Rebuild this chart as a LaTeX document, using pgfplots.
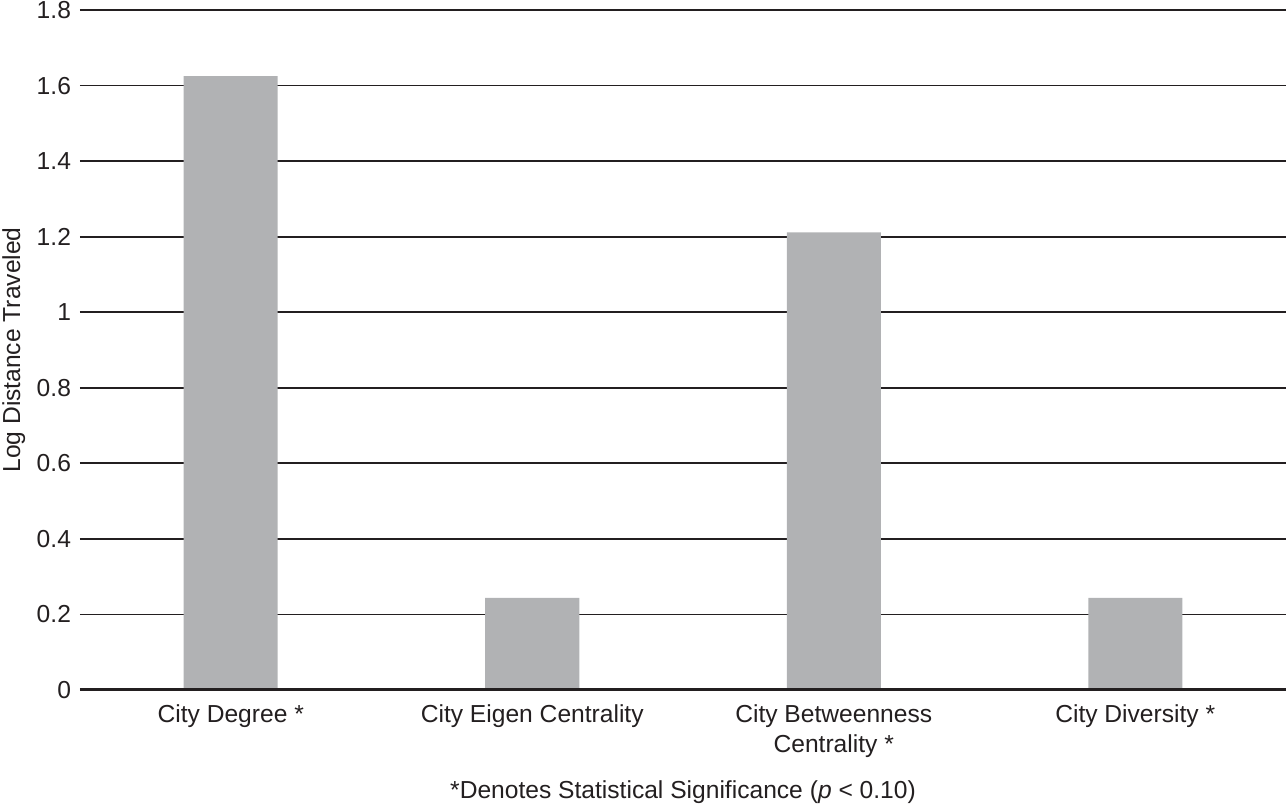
\documentclass[border=0pt]{standalone}
\usepackage{pgfplots}
\pgfplotsset{compat=1.18}
\usepackage{fontspec}
\setmainfont{Liberation Sans}
\definecolor{bargray}{HTML}{B1B2B4}
\definecolor{ink}{HTML}{231F20}
\begin{document}
\begin{tikzpicture}
\path[use as bounding box] (-40pt,-58pt) rectangle (603pt,345pt);
\begin{axis}[
  scale only axis,
  width=603pt, height=340pt,
  at={(0,0)}, anchor=south west,
  xmin=-0.5, xmax=3.5,
  ymin=0, ymax=1.8,
  ytick={0,0.2,0.4,0.6,0.8,1,1.2,1.4,1.6,1.8},
  xtick={0,1,2,3},
  xticklabels={City Degree *, City Eigen Centrality, {City Betweenness\\Centrality *}, City Diversity *},
  xticklabel style={align=center, font=\fontsize{12.3}{15}\selectfont, text=ink, yshift=-4pt},
  yticklabel style={font=\fontsize{12.3}{14}\selectfont, text=ink, xshift=-1pt},
  /pgf/number format/assume math mode=true,
  /pgf/number format/fixed,
  major tick length=0pt,
  axis line style={draw=none},
  ymajorgrids,
  major grid style={draw=ink, line width=0.9pt},
  ylabel={Log Distance Traveled},
  ylabel style={at={(axis description cs:-0.055,0.5)}, anchor=center, font=\fontsize{12.3}{14}\selectfont, text=ink},
  xlabel={*Denotes Statistical Significance (\textit{p} < 0.10)},
  xlabel style={at={(axis description cs:0.5,-0.15)}, anchor=center, font=\fontsize{12.3}{14}\selectfont, text=ink},
  ybar, bar width=47pt,
]
\addplot[fill=bargray, draw=none] coordinates {(0,1.625) (1,0.244) (2,1.211) (3,0.244)};
\draw[ink, line width=1.5pt] (axis cs:-0.5,0) -- (axis cs:3.5,0);
\end{axis}
\end{tikzpicture}
\end{document}
